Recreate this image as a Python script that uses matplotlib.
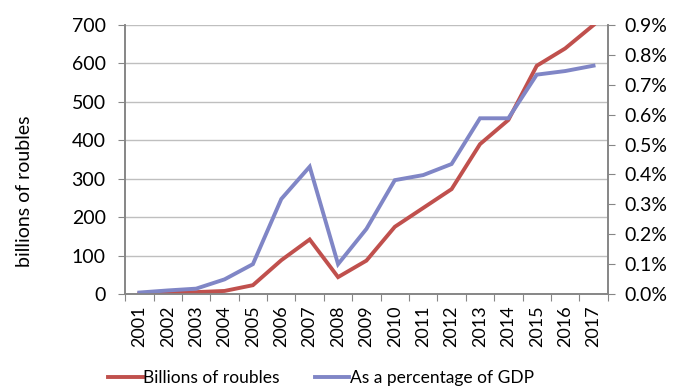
import matplotlib

matplotlib.use("Agg")

import matplotlib.pyplot as plt  # noqa: E402
from matplotlib.ticker import FuncFormatter, MultipleLocator  # noqa: E402

plt.rcParams["font.family"] = ["Lato", "DejaVu Sans"]

years = [str(y) for y in range(2001, 2018)]
billions_of_roubles = [1, 3, 5, 8, 23, 88, 142, 44, 87, 175, 224, 273, 390, 453, 594, 639, 700]
pct_of_gdp = [0.005, 0.012, 0.018, 0.049, 0.100, 0.318, 0.426, 0.100, 0.218, 0.381,
              0.398, 0.435, 0.588, 0.588, 0.734, 0.746, 0.764]

red = "#C0504D"
blue = "#8086C6"
grey = "#868686"

figure = plt.figure(figsize=(6.73, 3.91), dpi=100)
axis = figure.add_axes([0.186, 0.248, 0.717, 0.688])
right = axis.twinx()

x = range(len(years))
axis.plot(x, billions_of_roubles, color=red, linewidth=2.8, label="Billions of roubles",
          solid_joinstyle="miter", zorder=3)
right.plot(x, pct_of_gdp, color=blue, linewidth=2.8, label="As a percentage of GDP",
           solid_joinstyle="miter", zorder=2)

axis.set_xlim(-0.5, len(years) - 0.5)
axis.set_ylim(0, 700)
axis.yaxis.set_major_locator(MultipleLocator(100))
right.set_ylim(0, 0.9)
right.yaxis.set_major_locator(MultipleLocator(0.1))
right.yaxis.set_major_formatter(FuncFormatter(lambda v, _: f"{v:.1f}%"))

axis.set_xticks([i - 0.5 for i in range(len(years) + 1)])
axis.set_xticklabels([])
axis.set_xticks(list(x), minor=True)
axis.set_xticklabels(years, minor=True, rotation=90)
axis.tick_params(axis="x", which="minor", length=0, pad=8, labelsize=13)
axis.tick_params(axis="x", which="major", length=5, color=grey)
axis.tick_params(axis="y", length=5, color=grey, labelsize=14, pad=9)
right.tick_params(axis="y", length=5, color=grey, labelsize=14, pad=7)

axis.grid(True, axis="y", color="#BFBFBF", linewidth=1)
axis.set_axisbelow(True)
for ax in (axis, right):
    ax.spines["top"].set_visible(False)
    for side in ("left", "right", "bottom"):
        ax.spines[side].set_color(grey)
        ax.spines[side].set_linewidth(1.2)

axis.set_ylabel("billions of roubles", fontsize=14)
axis.yaxis.set_label_coords(-0.19, 0.383)

handles = axis.get_lines() + right.get_lines()
figure.legend(handles, [h.get_label() for h in handles], loc="center",
              bbox_to_anchor=(0.477, 0.033), ncol=2, frameon=False, fontsize=12.5,
              handlelength=2.0, handletextpad=0.05, columnspacing=2.0)

figure.savefig("out.png", dpi=100)
plt.close(figure)
